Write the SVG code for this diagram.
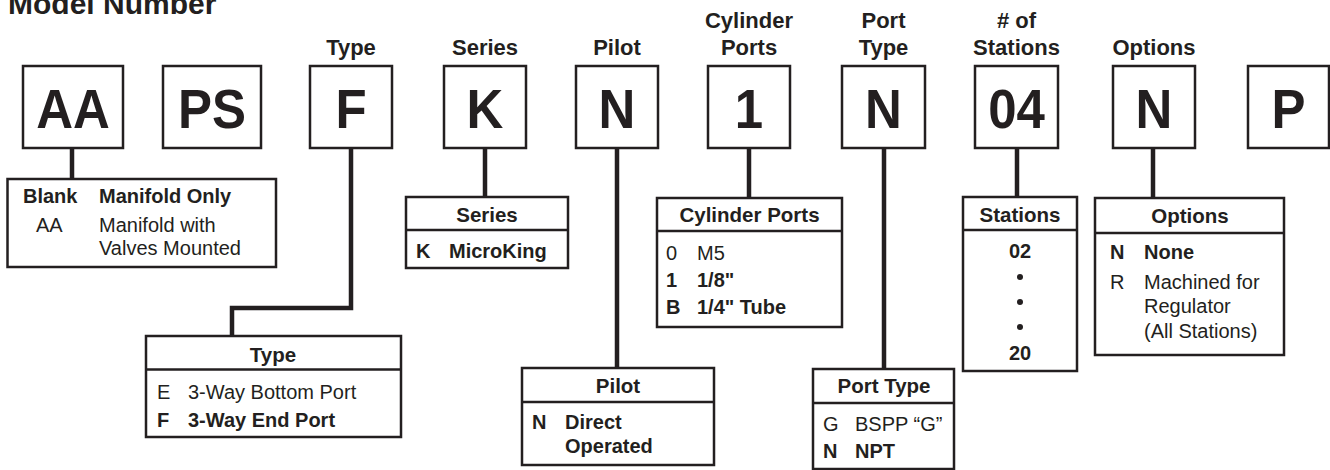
<svg xmlns="http://www.w3.org/2000/svg" width="1330" height="470" viewBox="0 0 1330 470">
<style>
text{font-family:"Liberation Sans",Arial,Helvetica,sans-serif;fill:#231f20}
.big{font-size:51px;font-weight:bold;text-anchor:middle}
.col{font-size:22px;font-weight:bold;text-anchor:middle}
.hd{font-size:20.5px;font-weight:bold;text-anchor:middle}
.tx{font-size:20px}
.b{font-weight:bold}
.mid{text-anchor:middle}
.box{fill:#fff;stroke:#231f20;stroke-width:2.5}
.div{stroke:#231f20;stroke-width:2.5}
.conn{fill:none;stroke:#231f20;stroke-width:4.5}
</style>
<rect width="1330" height="470" fill="#fff"/>
<text x="8" y="14" style="font-size:30px;font-weight:bold">Model Number</text>

<g id="connectors">
<path class="conn" d="M72 148 V179"/>
<path class="conn" d="M351 148 V308 H232 V336"/>
<path class="conn" d="M485 148 V197"/>
<path class="conn" d="M617 148 V368"/>
<path class="conn" d="M749 148 V198"/>
<path class="conn" d="M884 148 V369"/>
<path class="conn" d="M1017 148 V197"/>
<path class="conn" d="M1153 148 V198"/>
</g>

<g id="code-AA"><rect class="box" x="23" y="66" width="100" height="82"/><text class="big" transform="translate(73 128) scale(1 1.1)">AA</text></g>
<g id="code-PS"><rect class="box" x="163" y="66" width="98" height="82"/><text class="big" transform="translate(212 128) scale(1 1.1)">PS</text></g>
<g id="code-F"><text class="col" x="351" y="55">Type</text><rect class="box" x="310" y="66" width="82" height="82"/><text class="big" transform="translate(351 128) scale(1 1.1)">F</text></g>
<g id="code-K"><text class="col" x="485" y="55">Series</text><rect class="box" x="444" y="66" width="82" height="82"/><text class="big" transform="translate(485 128) scale(1 1.1)">K</text></g>
<g id="code-Npilot"><text class="col" x="617" y="55">Pilot</text><rect class="box" x="576" y="66" width="82" height="82"/><text class="big" transform="translate(617 128) scale(1 1.1)">N</text></g>
<g id="code-1"><text class="col" x="749" y="28">Cylinder</text><text class="col" x="749" y="55">Ports</text><rect class="box" x="708" y="66" width="82" height="82"/><text class="big" transform="translate(749 128) scale(1 1.1)">1</text></g>
<g id="code-Nport"><text class="col" x="883.5" y="28">Port</text><text class="col" x="883.5" y="55">Type</text><rect class="box" x="842" y="66" width="83" height="82"/><text class="big" transform="translate(883.5 128) scale(1 1.1)">N</text></g>
<g id="code-04"><text class="col" x="1016.5" y="28"># of</text><text class="col" x="1016.5" y="55">Stations</text><rect class="box" x="975" y="66" width="83" height="82"/><text class="big" transform="translate(1016.5 128) scale(1 1.1)">04</text></g>
<g id="code-Nopt"><text class="col" x="1154" y="55">Options</text><rect class="box" x="1113" y="66" width="82" height="82"/><text class="big" transform="translate(1154 128) scale(1 1.1)">N</text></g>
<g id="code-P"><rect class="box" x="1248" y="66" width="81" height="82"/><text class="big" transform="translate(1288.5 128) scale(1 1.1)">P</text></g>

<g id="table-manifold">
<rect class="box" x="7.5" y="179" width="268.5" height="88"/>
<text class="tx b" x="23" y="203">Blank</text><text class="tx b" x="99" y="203">Manifold Only</text>
<text class="tx" x="36" y="232">AA</text><text class="tx" x="99" y="232">Manifold with</text>
<text class="tx" x="99" y="255">Valves Mounted</text>
</g>

<g id="table-type">
<rect class="box" x="146" y="336" width="255" height="101"/>
<line class="div" x1="146" y1="369.5" x2="401" y2="369.5"/>
<text class="hd" x="273" y="362">Type</text>
<text class="tx" x="157" y="399">E</text><text class="tx" x="188" y="399">3-Way Bottom Port</text>
<text class="tx b" x="157" y="427">F</text><text class="tx b" x="188" y="427">3-Way End Port</text>
</g>

<g id="table-series">
<rect class="box" x="406" y="197" width="162" height="71"/>
<line class="div" x1="406" y1="230" x2="568" y2="230"/>
<text class="hd" x="487" y="222">Series</text>
<text class="tx b" x="416" y="258">K</text><text class="tx b" x="449" y="258">MicroKing</text>
</g>

<g id="table-pilot">
<rect class="box" x="522" y="368" width="192" height="97"/>
<line class="div" x1="522" y1="402" x2="714" y2="402"/>
<text class="hd" x="618" y="393">Pilot</text>
<text class="tx b" x="532" y="429">N</text><text class="tx b" x="565" y="429">Direct</text>
<text class="tx b" x="565" y="453">Operated</text>
</g>

<g id="table-cylinder">
<rect class="box" x="657" y="198" width="185" height="129"/>
<line class="div" x1="657" y1="231" x2="842" y2="231"/>
<text class="hd" x="749.5" y="222">Cylinder Ports</text>
<text class="tx" x="666" y="260">0</text><text class="tx" x="697" y="260">M5</text>
<text class="tx b" x="666" y="287">1</text><text class="tx b" x="697" y="287">1/8"</text>
<text class="tx b" x="666" y="314">B</text><text class="tx b" x="697" y="314">1/4" Tube</text>
</g>

<g id="table-porttype">
<rect class="box" x="813" y="369" width="141" height="100"/>
<line class="div" x1="813" y1="403" x2="954" y2="403"/>
<text class="hd" x="884" y="393">Port Type</text>
<text class="tx" x="823" y="431">G</text><text class="tx" x="855" y="431">BSPP “G”</text>
<text class="tx b" x="823" y="458">N</text><text class="tx b" x="855" y="458">NPT</text>
</g>

<g id="table-stations">
<rect class="box" x="963" y="197" width="114" height="174"/>
<line class="div" x1="963" y1="230" x2="1077" y2="230"/>
<text class="hd" x="1020" y="222">Stations</text>
<text class="tx b mid" x="1020" y="258">02</text>
<circle cx="1020" cy="277" r="3" fill="#231f20"/>
<circle cx="1020" cy="302" r="3" fill="#231f20"/>
<circle cx="1020" cy="327" r="3" fill="#231f20"/>
<text class="tx b mid" x="1020" y="360">20</text>
</g>

<g id="table-options">
<rect class="box" x="1095" y="198" width="189" height="157"/>
<line class="div" x1="1095" y1="233" x2="1284" y2="233"/>
<text class="hd" x="1190" y="223">Options</text>
<text class="tx b" x="1110" y="259">N</text><text class="tx b" x="1144" y="259">None</text>
<text class="tx" x="1110" y="289">R</text><text class="tx" x="1144" y="289">Machined for</text>
<text class="tx" x="1144" y="313">Regulator</text>
<text class="tx" x="1144" y="338">(All Stations)</text>
</g>
</svg>
